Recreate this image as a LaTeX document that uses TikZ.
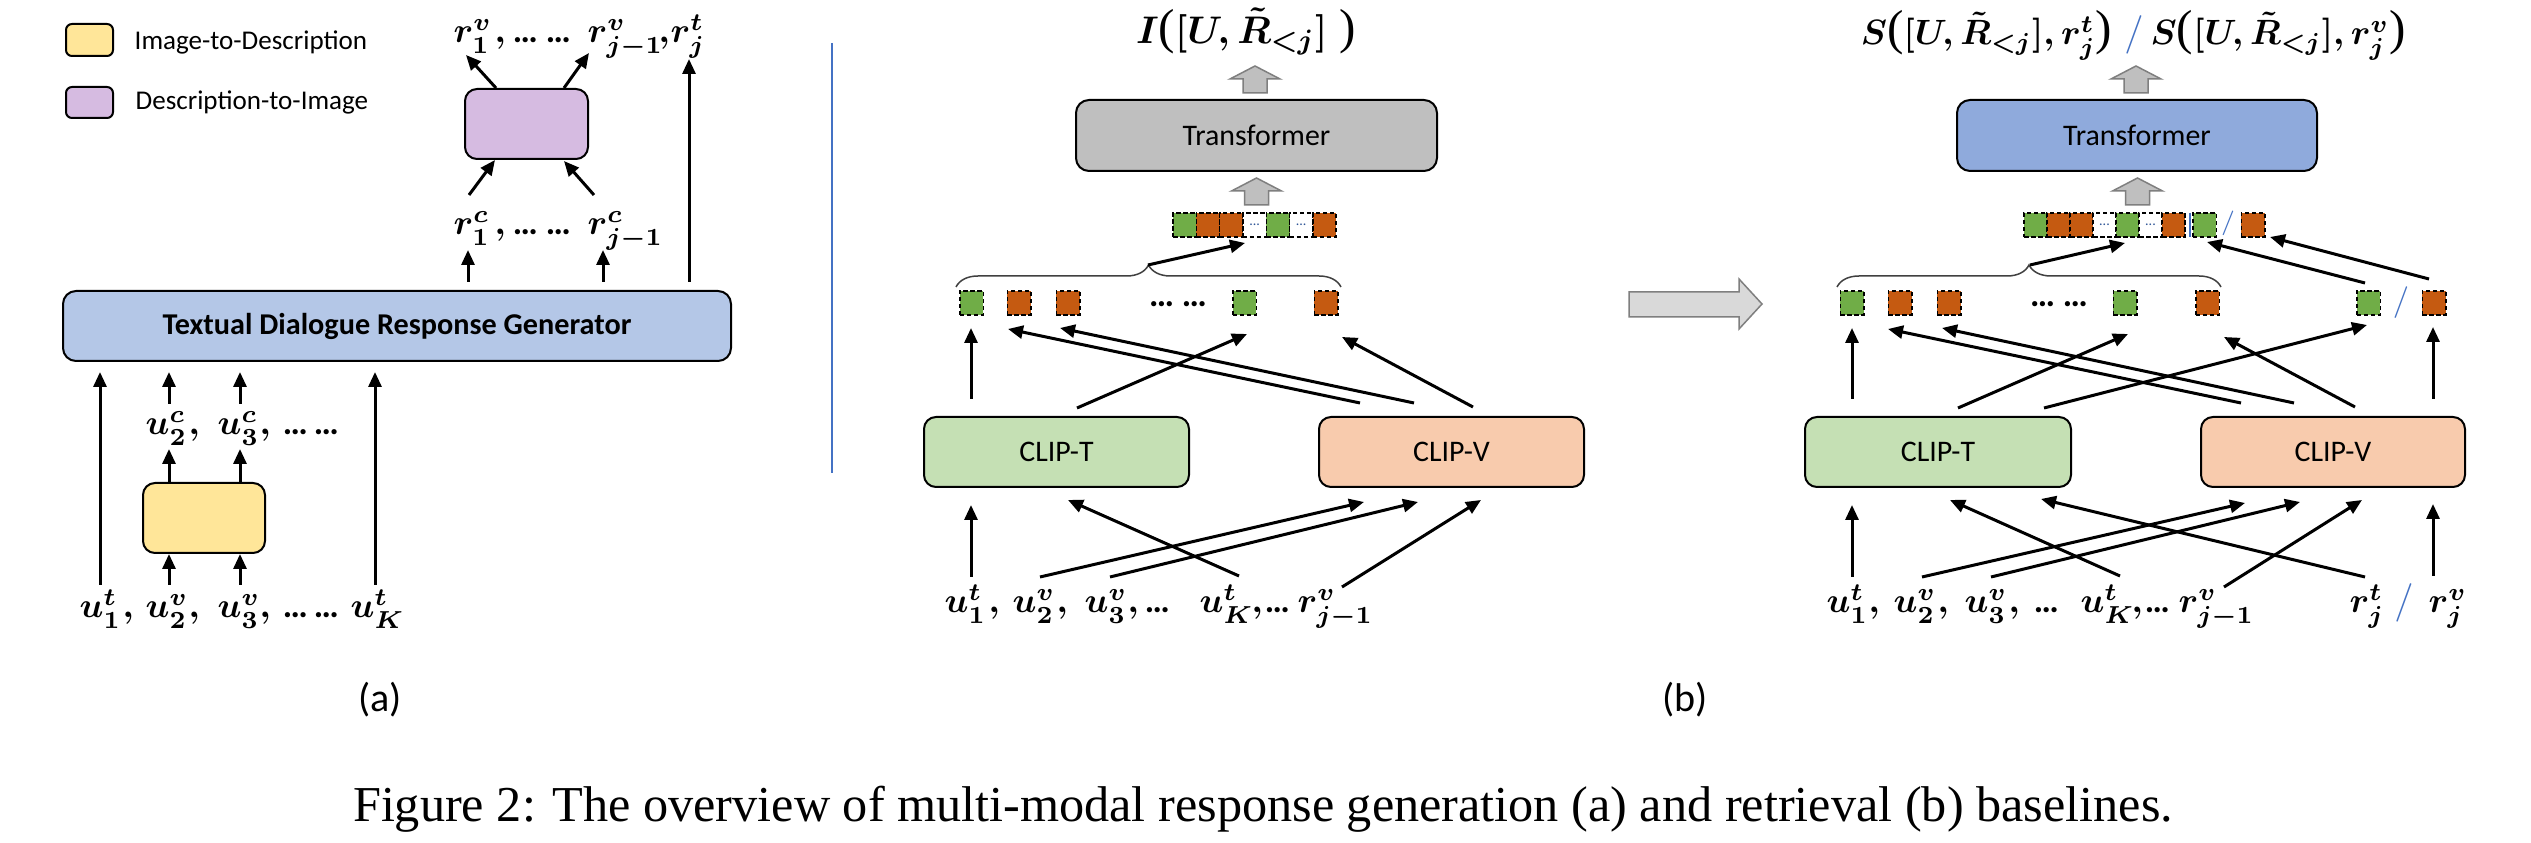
\documentclass[tikz,border=0pt]{standalone}
\usepackage[no-math]{fontspec}
\setmainfont{Liberation Serif}
\newfontfamily\carl{Carlito}
\usetikzlibrary{arrows.meta,decorations.pathreplacing}
\definecolor{yellowc}{HTML}{FFE699}
\definecolor{purplec}{HTML}{D6BBE1}
\definecolor{tdrgc}{HTML}{B4C7E7}
\definecolor{greyT}{HTML}{BFBFBF}
\definecolor{blueT}{HTML}{8FAADC}
\definecolor{clipTc}{HTML}{C5E0B4}
\definecolor{clipVc}{HTML}{F8CBAD}
\definecolor{tokG}{HTML}{70AD47}
\definecolor{tokO}{HTML}{C55A11}
\definecolor{sepblue}{HTML}{4472C4}
\definecolor{bigarr}{HTML}{D9D9D9}
\definecolor{arredge}{HTML}{7F7F7F}
\definecolor{dotc}{HTML}{2F5597}
\newcommand{\myell}{{\carl\bfseries …}}
\newcommand{\bigop}{\mbox{\fontsize{14}{14}\selectfont (}}
\newcommand{\bigcl}{\mbox{\fontsize{14}{14}\selectfont )}}
\begin{document}
\begin{tikzpicture}[x=0.1mm,y=-0.1mm,
  arr/.style={line width=0.3mm,-{Triangle[length=1.5mm,width=1.3mm]}},
  rbox/.style={draw=black,line width=0.2mm,rounded corners=1.2mm,inner sep=0,font=\carl\fontsize{8.5}{10}\selectfont},
  lab/.style={font=\boldmath\fontsize{10}{12}\selectfont,inner sep=0,anchor=base west},
  ttl/.style={font=\boldmath\fontsize{10.8}{13}\selectfont,inner sep=0},
  legtext/.style={font=\carl\fontsize{7.7}{9}\selectfont,inner sep=0,anchor=base west},
  tok/.style={draw=black,line width=0.15mm,dash pattern=on 0.45mm off 0.25mm,minimum width=2.35mm,minimum height=2.4mm,inner sep=0},
  blk/.style={fill=greyT,draw=arredge,line width=0.15mm},
  slashtxt/.style={inner sep=0,text=sepblue},
  celldots/.style={font=\carl\fontsize{4}{4}\selectfont,text=dotc,inner sep=0},
]
\fill[white] (0,0) rectangle (2531,843);
\useasboundingbox (0,0) rectangle (2531,843);

% ---------------- panel (a) ----------------
\node[rbox,fill=yellowc,minimum width=4.7mm,minimum height=3.2mm,rounded corners=0.6mm] (legI) at (89.5,40) {};
\node[legtext] (legIt) at (134,50) {Image-to-Description};
\node[rbox,fill=purplec,minimum width=4.7mm,minimum height=3.1mm,rounded corners=0.6mm] (legD) at (89.5,102.5) {};
\node[legtext] (legDt) at (135,110) {Description-to-Image};

\node[rbox,fill=purplec,minimum width=12.3mm,minimum height=7mm] (d2i) at (526.5,124) {};
\node[rbox,fill=yellowc,minimum width=12.2mm,minimum height=7mm] (i2d) at (204,518) {};
\node[rbox,fill=tdrgc,minimum width=66.8mm,minimum height=7mm,rounded corners=1.3mm,font=\carl\bfseries\fontsize{8.6}{10}\selectfont] (tdrg) at (397,326) {Textual Dialogue Response Generator};

\node[lab] (r1v) at (453,43) {$r_1^v$};
\node[lab] (p1) at (494,43) {$,$\hspace{0.7mm}\myell\hspace{0.8mm}\myell};
\node[lab] (rj1v) at (587,43) {$r_{j-1}^v$};
\node[lab] (p2) at (658,43) {$,$};
\node[lab] (rjt) at (670,43) {$r_j^t$};
\node[lab] (r1c) at (453,235) {$r_1^c$};
\node[lab] (p3) at (494,235) {$,$\hspace{0.7mm}\myell\hspace{0.8mm}\myell};
\node[lab] (rj1c) at (587,235) {$r_{j-1}^c$};
\node[lab] (u2c) at (145,435) {$u_2^c$};
\node[lab] (p4) at (188,435) {$,$};
\node[lab] (u3c) at (217,435) {$u_3^c$};
\node[lab] (p5) at (259,435) {$,$\hspace{1.2mm}\myell\hspace{0.6mm}\myell};
\node[lab] (au1t) at (79,618) {$u_1^t$};
\node[lab] (p6) at (122,618) {$,$};
\node[lab] (au2v) at (145,618) {$u_2^v$};
\node[lab] (p7) at (188,618) {$,$};
\node[lab] (au3v) at (217,618) {$u_3^v$};
\node[lab] (p8) at (259,618) {$,$\hspace{1.2mm}\myell\hspace{0.6mm}\myell};
\node[lab] (auKt) at (350,618) {$u_K^t$};

\node[font=\carl\fontsize{11.4}{13}\selectfont,inner sep=0] (capa) at (380,700) {(a)};

% separator
\draw[sepblue,line width=0.2mm] (832,43) -- (832,473);

% ---------------- panel (b) left ----------------
\node[ttl,anchor=base] (ttlL) at (1246,44) {$I\bigop[U,\tilde{R}_{<j}]\;\bigcl$};
\node[rbox,fill=greyT,minimum width=36.1mm,minimum height=7.1mm,rounded corners=1.3mm] (trL) at (1256.5,135.5) {Transformer};
\node[rbox,fill=clipTc,minimum width=26.5mm,minimum height=7mm] (ctL) at (1056.5,452) {CLIP-T};
\node[rbox,fill=clipVc,minimum width=26.5mm,minimum height=7mm] (cvL) at (1451.5,452) {CLIP-V};

\foreach \i/\c in {0/tokG,1/tokO,2/tokO,3/white,4/tokG,5/white,6/tokO}
  \node[tok,fill=\c,minimum width=2.33mm] (sL\i) at ({1184.7+23.3*\i},225) {};
\node[celldots] (sLd3) at (sL3) {...};
\node[celldots] (sLd5) at (sL5) {...};

\foreach \n/\x/\c in {1/971.5/tokG,2/1019/tokO,3/1068/tokO,4/1244.5/tokG,5/1326/tokO}
  \node[tok,fill=\c] (tL\n) at (\x,303) {};
\node[lab,anchor=base] (tLd) at (1178,307) {\myell\hspace{0.8mm}\myell};

\draw[decorate,decoration={brace,amplitude=2.2mm},line width=0.15mm,draw=black!75] (956,287) -- (1341,287);

\node[lab] (bu1t) at (944,613) {$u_1^t$};
\node[lab] (q1) at (988,613) {$,$};
\node[lab] (bu2v) at (1012,613) {$u_2^v$};
\node[lab] (q2) at (1056,613) {$,$};
\node[lab] (bu3v) at (1084,613) {$u_3^v$};
\node[lab] (q3) at (1127,613) {$,$\hspace{0.6mm}\myell};
\node[lab] (buKt) at (1199,613) {$u_K^t$};
\node[lab] (q4) at (1251,613) {$,$\hspace{0.2mm}\myell};
\node[lab] (brj1v) at (1297,613) {$r_{j-1}^v$};

\node[font=\carl\fontsize{11.4}{13}\selectfont,inner sep=0] (capb) at (1685,700) {(b)};

% big arrow
\draw[fill=bigarr,draw=arredge,line width=0.15mm] (1629,292) -- (1739,292) -- (1739,279) -- (1762,304) -- (1739,329) -- (1739,317) -- (1629,317) -- cycle;

% ---------------- panel (b) right ----------------
\node[ttl,font=\boldmath\fontsize{10}{12}\selectfont,anchor=base east] (ttlR1) at (2113,45) {$S\bigop[U,\tilde{R}_{<j}],r_j^t\bigcl$};
\node[slashtxt,anchor=base,font=\fontsize{10.8}{13}\selectfont] (ttlSl) at (2134,45) {$/$};
\node[ttl,font=\boldmath\fontsize{10}{12}\selectfont,anchor=base west] (ttlR2) at (2150,45) {$S\bigop[U,\tilde{R}_{<j}],r_j^v\bigcl$};
\node[rbox,fill=blueT,minimum width=36mm,minimum height=7.1mm,rounded corners=1.3mm] (trR) at (2137,135.5) {Transformer};
\node[rbox,fill=clipTc,minimum width=26.6mm,minimum height=7mm] (ctR) at (1938,452) {CLIP-T};
\node[rbox,fill=clipVc,minimum width=26.4mm,minimum height=7mm] (cvR) at (2333,452) {CLIP-V};

\foreach \i/\c in {0/tokG,1/tokO,2/tokO,3/white,4/tokG,5/white,6/tokO}
  \node[tok,fill=\c,minimum width=2.3mm] (sR\i) at ({2035.5+23*\i},225) {};
\node[celldots] (sRd3) at (sR3) {...};
\node[celldots] (sRd5) at (sR5) {...};
\draw[sepblue,line width=0.2mm] (2189.5,213) -- (2189.5,237);
\node[tok,fill=tokG] (sRg) at (2204.5,225) {};
\node[slashtxt,font=\fontsize{7.4}{9}\selectfont] (sRsl) at (2228,223) {$/$};
\node[tok,fill=tokO] (sRo) at (2253,225) {};

\foreach \n/\x/\c in {1/1852/tokG,2/1900/tokO,3/1949/tokO,4/2125/tokG,5/2207.5/tokO,6/2368.5/tokG,7/2434/tokO}
  \node[tok,fill=\c] (tR\n) at (\x,303) {};
\node[lab,anchor=base] (tRd) at (2059,307) {\myell\hspace{0.8mm}\myell};
\node[slashtxt,font=\fontsize{8.8}{10}\selectfont] (tRsl) at (2401,303) {$/$};

\draw[decorate,decoration={brace,amplitude=2.2mm},line width=0.15mm,draw=black!75] (1837,287) -- (2221,287);

\node[lab] (cu1t) at (1826,613) {$u_1^t$};
\node[lab] (s1) at (1868,613) {$,$};
\node[lab] (cu2v) at (1893,613) {$u_2^v$};
\node[lab] (s2) at (1937,613) {$,$};
\node[lab] (cu3v) at (1964,613) {$u_3^v$};
\node[lab] (s3) at (2008,613) {$,$\hspace{1.4mm}\myell};
\node[lab] (cuKt) at (2080,613) {$u_K^t$};
\node[lab] (s4) at (2131,613) {$,$\hspace{0.2mm}\myell};
\node[lab] (crj1v) at (2178,613) {$r_{j-1}^v$};
\node[lab] (crjt) at (2349,613) {$r_j^t$};
\node[slashtxt,anchor=base,font=\fontsize{10.8}{13}\selectfont] (crsl) at (2404,613) {$/$};
\node[lab] (crjv) at (2428,613) {$r_j^v$};

% block arrows
\foreach \cx/\yt in {1255/66,1256.5/178,2136/66,2137.5/178}
  \draw[blk] (\cx,\yt) -- ({\cx+25},{\yt+13}) -- ({\cx+12},{\yt+13}) -- ({\cx+12},{\yt+27}) -- ({\cx-12},{\yt+27}) -- ({\cx-12},{\yt+13}) -- ({\cx-25},{\yt+13}) -- cycle;

% ---------------- connectors ----------------
\foreach \n/\sx/\sy/\ex/\ey in {
  a1/100/585/100/372, a2/169/585/169/554, a3/240/585/240/554, a4/375/585/375/372,
  a5/169/482/169/449, a6/240/482/240/449, a7/169/404/169/372, a8/240/404/240/372,
  a9/468/282/468/250, a10/603/282/603/250, a11/689/282/689/59,
  a12/469/195/495/160, a13/594/195/564/161, a14/496/88/466/55, a15/564/88/589/53,
  b1/971/399/971/328, b2/1360/403/1008/329, b3/1414/403/1060/328, b4/1077/408/1247/334,
  b5/1473/407/1342/337, b6/971/577/971/505, b7/1239/576/1068/500, b8/1040/577/1364/502,
  b9/1110/577/1418/502, b10/1342/587/1481/500, b11/1148/265/1245/243,
  c1/1852/399/1852/328, c2/2241/403/1888/329, c3/2294/403/1942/328, c4/1958/408/2128/334,
  c5/2044/408/2367/325, c6/2355/407/2224/337, c7/2433/399/2433/327,
  c8/1852/577/1852/505, c9/2120/576/1950/500, c10/2365/577/2041/499, c11/1922/577/2245/503,
  c12/1991/577/2300/502, c13/2224/587/2362/500, c14/2433/576/2433/504,
  c15/2030/265/2125/243, c16/2365/283/2207/242, c17/2429/279/2270/237}
{
  \coordinate (\n-s) at (\sx,\sy);
  \coordinate (\n-e) at (\ex,\ey);
  \draw[arr] (\n-s) -- (\n-e);
}

% caption
\node[font=\fontsize{14.3}{17}\selectfont,anchor=base,inner sep=0] (cap) at (1263,822) {Figure 2: The overview of multi-modal response generation (a) and retrieval (b) baselines.};
\end{tikzpicture}
\end{document}
